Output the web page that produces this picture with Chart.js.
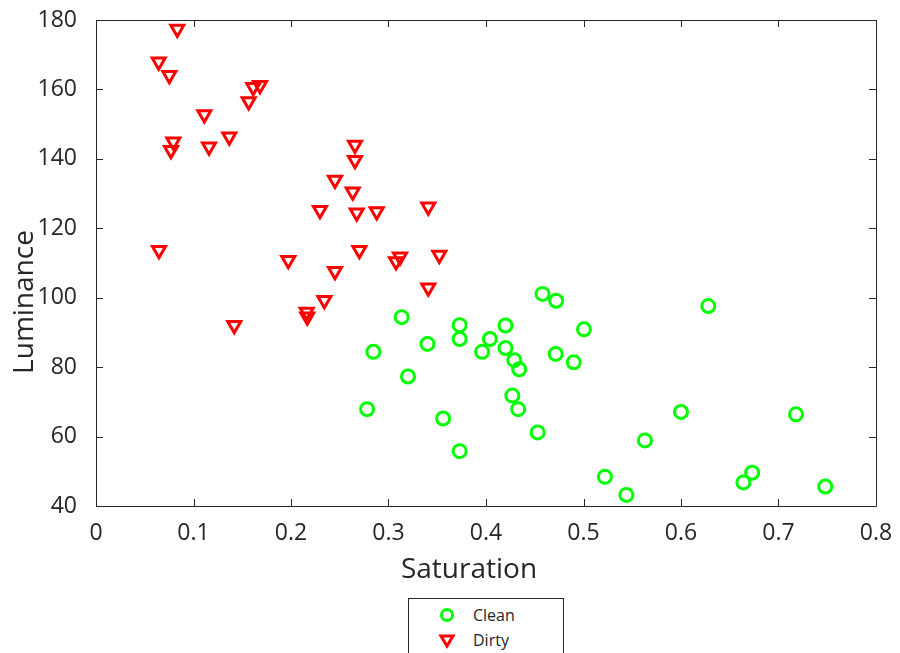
<!DOCTYPE html>
<html>
<head>
<meta charset="utf-8">
<script src="https://cdn.jsdelivr.net/npm/chart.js@4/dist/chart.umd.min.js"></script>
<style>
  html, body { margin: 0; padding: 0; background: #ffffff; }
  #wrap { position: relative; width: 900px; height: 653px; overflow: hidden; background: #fff; }
  #legend { position: absolute; left: 408px; top: 598px; width: 156px; height: 70px;
            border: 1px solid #262626; background: #fff; font-family: "Open Sans", sans-serif;
            font-size: 16px; color: #262626; box-sizing: border-box; }
  .item { position: absolute; left: 0; height: 24px; display: flex; align-items: center; }
  .item svg { position: absolute; left: 29px; }
  .item span { position: absolute; left: 64px; white-space: nowrap; }
</style>
</head>
<body>
<div id="wrap">
  <canvas id="c" width="900" height="653"></canvas>
  <div id="legend"></div>
</div>
<script>
// ---- Data ----
const seriesNames = ["Clean", "Dirty"];

const cleanSaturation = [0.458, 0.472, 0.3135, 0.373, 0.420, 0.5005, 0.373, 0.404, 0.340, 0.396,
  0.2845, 0.420, 0.4715, 0.429, 0.434, 0.490, 0.320, 0.427, 0.433, 0.278,
  0.356, 0.453, 0.373, 0.628, 0.600, 0.718, 0.563, 0.522, 0.544, 0.673,
  0.664, 0.748];
const cleanLuminance = [101.1, 99.1, 94.4, 92.1, 92.0, 90.9, 88.1, 88.1, 86.7, 84.4,
  84.4, 85.5, 83.8, 82.0, 79.4, 81.4, 77.3, 71.8, 67.9, 67.9,
  65.2, 61.2, 55.8, 97.6, 67.1, 66.4, 58.9, 48.4, 43.2, 49.6,
  46.8, 45.6];

const dirtySaturation = [0.0834, 0.0643, 0.0752, 0.1613, 0.1682, 0.1566, 0.1111, 0.0793, 0.0769, 0.1159,
  0.1367, 0.2656, 0.2656, 0.2451, 0.2633, 0.2297, 0.2674, 0.2879, 0.3408, 0.0646,
  0.1972, 0.2701, 0.2451, 0.3077, 0.3118, 0.3521, 0.3408, 0.2342, 0.2161, 0.2167,
  0.1418];
const dirtyLuminance = [177.4, 168.0, 164.1, 160.6, 161.2, 156.5, 152.8, 144.9, 142.5, 143.5,
  146.4, 144.0, 139.6, 133.9, 130.5, 125.2, 124.5, 124.8, 126.2, 113.7,
  110.8, 113.7, 107.6, 110.4, 111.8, 112.3, 102.9, 99.3, 95.9, 94.5,
  92.1];

const xTicks = [0, 0.1, 0.2, 0.3, 0.4, 0.5, 0.6, 0.7, 0.8];
const yTicks = [40, 60, 80, 100, 120, 140, 160, 180];
const xTitle = "Saturation";
const yTitle = "Luminance";

// ---- Build ----
const toPoints = (xs, ys) => xs.map((x, i) => ({ x: x, y: ys[i] }));
const GREEN = "rgb(0,255,0)";
const RED = "rgb(255,0,0)";
const AXIS = "#262626";
const FONT = "'Open Sans', sans-serif";

const boxPlugin = {
  id: "boxTicks",
  beforeDatasetsDraw(chart) {
    const { ctx, chartArea: a, scales: { x, y } } = chart;
    const L = 7;
    ctx.save();
    ctx.strokeStyle = AXIS;
    ctx.lineWidth = 1;
    ctx.beginPath();
    ctx.rect(Math.round(a.left) + 0.5, Math.round(a.top) + 0.5,
             Math.round(a.right - a.left), Math.round(a.bottom - a.top));
    xTicks.forEach(v => {
      const px = Math.round(x.getPixelForValue(v)) + 0.5;
      ctx.moveTo(px, a.bottom); ctx.lineTo(px, a.bottom - L);
      ctx.moveTo(px, a.top); ctx.lineTo(px, a.top + L);
    });
    yTicks.forEach(v => {
      const py = Math.round(y.getPixelForValue(v)) + 0.5;
      ctx.moveTo(a.left, py); ctx.lineTo(a.left + L, py);
      ctx.moveTo(a.right, py); ctx.lineTo(a.right - L, py);
    });
    ctx.stroke();
    ctx.restore();
  },
  afterDraw(chart) {
    // axis titles (offset from the axis centres, as in the reference)
    const { ctx, chartArea: a } = chart;
    ctx.save();
    ctx.fillStyle = AXIS;
    ctx.font = "28px " + FONT;
    ctx.textAlign = "center";
    ctx.textBaseline = "alphabetic";
    ctx.fillText(xTitle, (a.left + a.right) / 2 - 17, a.bottom + 72);
    ctx.translate(33, (a.top + a.bottom) / 2 + 39);
    ctx.rotate(-Math.PI / 2);
    ctx.fillText(yTitle, 0, 0);
    ctx.restore();
  }
};

new Chart(document.getElementById("c"), {
  type: "scatter",
  data: {
    datasets: [
      { label: seriesNames[0], data: toPoints(cleanSaturation, cleanLuminance),
        pointStyle: "circle", pointRadius: 6.5, pointBorderWidth: 3,
        borderColor: GREEN, backgroundColor: "rgba(0,0,0,0)",
        pointBackgroundColor: "rgba(0,0,0,0)", pointBorderColor: GREEN },
      { label: seriesNames[1], data: toPoints(dirtySaturation, dirtyLuminance),
        pointStyle: "triangle", pointRotation: 180, pointRadius: 7.5, pointBorderWidth: 3,
        borderColor: RED, backgroundColor: "rgba(0,0,0,0)",
        pointBackgroundColor: "rgba(0,0,0,0)", pointBorderColor: RED }
    ]
  },
  options: {
    responsive: false,
    animation: false,
    devicePixelRatio: 1,
    layout: { padding: { left: 0, top: 20, right: 24, bottom: 0 } },
    plugins: { legend: { display: false }, tooltip: { enabled: false } },
    scales: {
      x: {
        type: "linear", min: 0, max: 0.8,
        afterBuildTicks: s => { s.ticks = xTicks.map(v => ({ value: v })); },
        afterFit: s => { s.height = 147; s.paddingLeft = 0; s.paddingRight = 0; },
        grid: { display: false },
        border: { display: false },
        ticks: { color: AXIS, font: { family: FONT, size: 23 }, padding: 6,
                 callback: v => String(v) },
        title: { display: false }
      },
      y: {
        type: "linear", min: 40, max: 180,
        afterBuildTicks: s => { s.ticks = yTicks.map(v => ({ value: v })); },
        afterFit: s => { s.width = 96; s.paddingTop = 0; s.paddingBottom = 0; },
        grid: { display: false },
        border: { display: false },
        ticks: { color: AXIS, font: { family: FONT, size: 23 }, padding: 11,
                 callback: v => String(v) },
        title: { display: false }
      }
    }
  },
  plugins: [boxPlugin]
});

// ---- Legend (HTML, real text) ----
const legend = document.getElementById("legend");
const legendItems = [
  { name: seriesNames[0], color: GREEN, shape: "circle", top: 4 },
  { name: seriesNames[1], color: RED, shape: "triangle", top: 29 }
];
legendItems.forEach(it => {
  const d = document.createElement("div");
  d.className = "item";
  d.style.top = it.top + "px";
  const svg = it.shape === "circle"
    ? `<svg width="18" height="18" viewBox="0 0 18 18"><circle cx="9" cy="9" r="5.5" fill="none" stroke="${it.color}" stroke-width="3"/></svg>`
    : `<svg width="18" height="18" viewBox="0 0 18 18"><polygon points="3,5 15,5 9,15" fill="none" stroke="${it.color}" stroke-width="3"/></svg>`;
  d.innerHTML = svg + `<span>${it.name}</span>`;
  legend.appendChild(d);
});
</script>
</body>
</html>
